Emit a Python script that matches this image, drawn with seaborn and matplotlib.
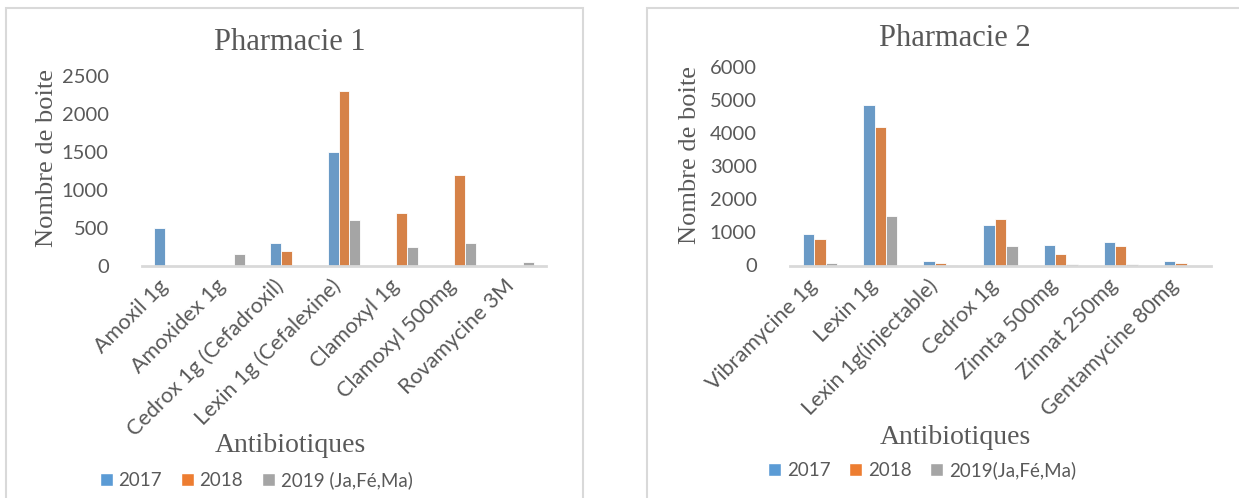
"""Ventes d'antibiotiques : deux pharmacies, 2017-2019."""

import matplotlib
matplotlib.use("Agg")
import matplotlib.pyplot as plt
from matplotlib.patches import Patch, Rectangle
from matplotlib.transforms import ScaledTranslation
import pandas as pd
import seaborn as sns

# --- data ---------------------------------------------------------------
years = ["2017", "2018", "2019"]

p1_drugs = ["Amoxil 1g", "Amoxidex 1g", "Cedrox 1g (Cefadroxil)",
            "Lexin 1g (Cefalexine)", "Clamoxyl 1g", "Clamoxyl 500mg",
            "Rovamycine 3M"]
p1_2017 = [500, 0, 300, 1500, 0, 0, 0]
p1_2018 = [0, 0, 200, 2300, 700, 1200, 0]
p1_2019 = [0, 150, 0, 600, 250, 300, 50]
p1_legend = ["2017", "2018", "2019 (Ja,Fé,Ma)"]

p2_drugs = ["Vibramycine 1g", "Lexin 1g", "Lexin 1g(injectable)", "Cedrox 1g",
            "Zinnta 500mg", "Zinnat 250mg", "Gentamycine 80mg"]
p2_2017 = [950, 4850, 130, 1230, 610, 720, 130]
p2_2018 = [810, 4200, 90, 1410, 350, 600, 80]
p2_2019 = [90, 1500, 10, 590, 50, 60, 0]
p2_legend = ["2017", "2018", "2019(Ja,Fé,Ma)"]

COLORS = ["#5B9BD5", "#ED7D31", "#A5A5A5"]
GREY_TXT = "#595959"
W, H = 1239, 498


def to_long(drugs, series):
    rows = []
    for year, vals in zip(years, series):
        for d, v in zip(drugs, vals):
            rows.append({"drug": d, "year": year, "n": v})
    return pd.DataFrame(rows)


def fx(px):
    return px / W


def fy(py):
    return 1 - py / H


sns.set_style("white")
plt.rcParams["font.family"] = ["Lato", "DejaVu Sans"]

fig = plt.figure(figsize=(W / 100, H / 100), dpi=100)

# panel frames
for x0, x1 in [(6, 583), (647, 1245)]:
    fig.patches.append(Rectangle((fx(x0), fy(510)), fx(x1 - x0), (510 - 8) / H,
                                 transform=fig.transFigure, fill=False,
                                 edgecolor="#D9D9D9", linewidth=1.5))

panels = [
    dict(df=to_long(p1_drugs, [p1_2017, p1_2018, p1_2019]), order=p1_drugs,
         rect=[fx(142), fy(265.7), fx(404), (265.7 - 76) / H], ymax=2500,
         yticks=[0, 500, 1000, 1500, 2000, 2500], title="Pharmacie 1",
         title_xy=(290, 42), ylab_xy=(47, 158), xlab_xy=(290, 445),
         leg=p1_legend, leg_xy=(256, 480)),
    dict(df=to_long(p2_drugs, [p2_2017, p2_2018, p2_2019]), order=p2_drugs,
         rect=[fx(790), fy(265.5), fx(421), (265.5 - 67) / H], ymax=6000,
         yticks=[0, 1000, 2000, 3000, 4000, 5000, 6000], title="Pharmacie 2",
         title_xy=(955, 38), ylab_xy=(690, 155), xlab_xy=(955, 437),
         leg=p2_legend, leg_xy=(922, 470)),
]

shift = ScaledTranslation(-6 / 100, -17 / 100, fig.dpi_scale_trans)

for p in panels:
    ax = fig.add_axes(p["rect"])
    sns.barplot(data=p["df"], x="drug", y="n", hue="year", order=p["order"],
                palette=COLORS, width=0.57, gap=0, ax=ax, legend=False,
                edgecolor="white", linewidth=0.6)
    ax.set_xlim(-0.5, len(p["order"]) - 0.5)
    ax.set_ylim(0, p["ymax"])
    ax.set_yticks(p["yticks"])
    ax.set_yticklabels([str(t) for t in p["yticks"]])
    ax.tick_params(axis="y", length=0, pad=24, labelsize=14.5, labelcolor=GREY_TXT)
    ax.tick_params(axis="x", length=0, pad=0, labelsize=15.5, labelcolor=GREY_TXT)
    for lab in ax.get_xticklabels():
        lab.set_rotation(45)
        lab.set_ha("right")
        lab.set_va("center")
        lab.set_rotation_mode("anchor")
        lab.set_transform(lab.get_transform() + shift)
    ax.set_xlabel("")
    ax.set_ylabel("")
    for s in ["top", "right", "left"]:
        ax.spines[s].set_visible(False)
    ax.spines["bottom"].set_color("#D9D9D9")
    ax.spines["bottom"].set_linewidth(2)

    fig.text(fx(p["title_xy"][0]), fy(p["title_xy"][1]), p["title"],
             family="Liberation Serif", fontsize=22, color=GREY_TXT,
             ha="center", va="center")
    fig.text(fx(p["ylab_xy"][0]), fy(p["ylab_xy"][1]), "Nombre de boite",
             family="Liberation Serif", fontsize=19, color=GREY_TXT,
             rotation=90, ha="center", va="center")
    fig.text(fx(p["xlab_xy"][0]), fy(p["xlab_xy"][1]), "Antibiotiques",
             family="Liberation Serif", fontsize=20, color=GREY_TXT,
             ha="center", va="center")

    handles = [Patch(facecolor=c, label=l) for c, l in zip(COLORS, p["leg"])]
    fig.legend(handles=handles, loc="center",
               bbox_to_anchor=(fx(p["leg_xy"][0]), fy(p["leg_xy"][1])),
               ncol=3, frameon=False, fontsize=13.5, labelcolor=GREY_TXT,
               handlelength=0.7, handleheight=0.7, handletextpad=0.3,
               columnspacing=1.0, borderpad=0)

fig.savefig("out.png", dpi=100)
